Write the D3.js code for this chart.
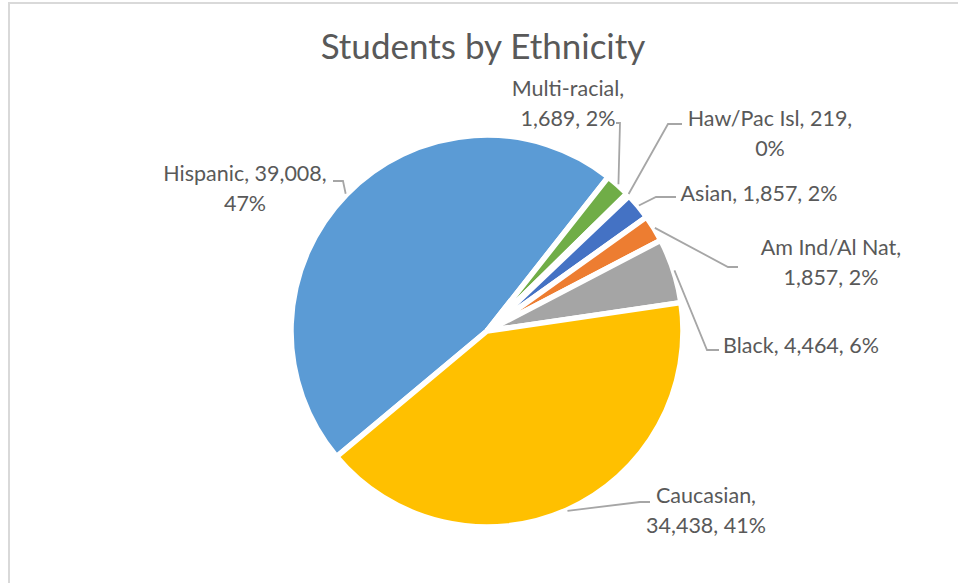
<!DOCTYPE html>
<html lang="en">
<head>
<meta charset="utf-8">
<title>Students by Ethnicity</title>
<style>
  body { margin: 0; background: #fff; }
  svg text { font-family: Lato, "Open Sans", sans-serif; fill: #595959; }
</style>
<script src="https://cdn.jsdelivr.net/npm/d3@7/dist/d3.min.js"></script>
</head>
<body>
<div id="chart"></div>
<script>
// data, in the order the slices run clockwise
var ethnicities = ["Hispanic", "Multi-racial", "Haw/Pac Isl", "Asian", "Am Ind/Al Nat", "Black", "Caucasian"],
    students = [39008, 1689, 219, 1857, 1857, 4464, 34438],
    pctLabels = ["47%", "2%", "0%", "2%", "2%", "6%", "41%"];

var colors = ["#5b9bd5", "#70ad47", "#255e91", "#4472c4", "#ed7d31", "#a5a5a5", "#ffc000"];

var width = 958, height = 583,
    cx = 487, cy = 331,
    radius = 196,
    startDeg = 230.1;

// leader line elbow, tail end, text centre, where the label breaks (0 = one line)
var place = [
    {elbow: [343, 181], tail: [333, 181], text: [245, 173], brk: 2},
    {elbow: [620, 123], tail: [616, 123], text: [568, 88], brk: 1},
    {elbow: [668, 124], tail: [682, 124], text: [770, 118], brk: 2},
    {elbow: [656, 197], tail: [676, 197], text: [759, 193], brk: 0},
    {elbow: [728, 267], tail: [738, 267], text: [831, 247], brk: 1},
    {elbow: [707, 350], tail: [719, 350], text: [801, 345], brk: 0},
    {elbow: [640, 502], tail: [650, 502], text: [706, 495], brk: 1}
];

var fmt = d3.format(",");

var svg = d3.select("#chart").append("svg")
    .attr("width", width)
    .attr("height", height);

// chart area frame (runs off the right and bottom)
svg.append("rect")
    .attr("x", 9).attr("y", 3)
    .attr("width", 1200).attr("height", 1200)
    .attr("fill", "none")
    .attr("stroke", "#d9d9d9")
    .attr("stroke-width", 2);

svg.append("text")
    .attr("x", 483).attr("y", 59)
    .attr("text-anchor", "middle")
    .style("font-size", "35px")
    .text("Students by Ethnicity");

var start = startDeg * Math.PI / 180;
var pie = d3.pie().sort(null).value(function (d) { return d; })
    .startAngle(start).endAngle(start + 2 * Math.PI);
var arcs = pie(students);

var arc = d3.arc().innerRadius(0).outerRadius(radius);
var edge = d3.arc().innerRadius(radius + 1).outerRadius(radius + 1);

var g = svg.append("g").attr("transform", "translate(" + cx + "," + cy + ")");

g.selectAll("path.slice").data(arcs)
    .enter().append("path")
    .attr("class", "slice")
    .attr("d", arc)
    .attr("fill", function (d, i) { return colors[i]; })
    .attr("stroke", "#fff")
    .attr("stroke-width", 5.5);

// leader lines
svg.selectAll("path.leader").data(arcs)
    .enter().append("path")
    .attr("class", "leader")
    .attr("d", function (d, i) {
        var p = edge.centroid(d), s = place[i];
        return "M" + (p[0] + cx) + "," + (p[1] + cy) +
            "L" + s.elbow[0] + "," + s.elbow[1] +
            "L" + s.tail[0] + "," + s.tail[1];
    })
    .attr("fill", "none")
    .attr("stroke", "#a6a6a6")
    .attr("stroke-width", 1.8);

// data labels
var labels = svg.selectAll("text.lab").data(arcs)
    .enter().append("text")
    .attr("class", "lab")
    .attr("text-anchor", "middle")
    .style("font-size", "21.5px");

labels.each(function (d, i) {
    var parts = [ethnicities[i], fmt(students[i]), pctLabels[i]],
        s = place[i], lines;
    if (s.brk === 0) lines = [parts.join(", ")];
    else lines = [parts.slice(0, s.brk).join(", ") + ",", parts.slice(s.brk).join(", ")];
    d3.select(this).selectAll("tspan").data(lines)
        .enter().append("tspan")
        .attr("x", s.text[0])
        .attr("y", function (l, j) { return s.text[1] + j * 30; })
        .attr("dy", "0.35em")
        .text(function (l) { return l; });
});
</script>
</body>
</html>
